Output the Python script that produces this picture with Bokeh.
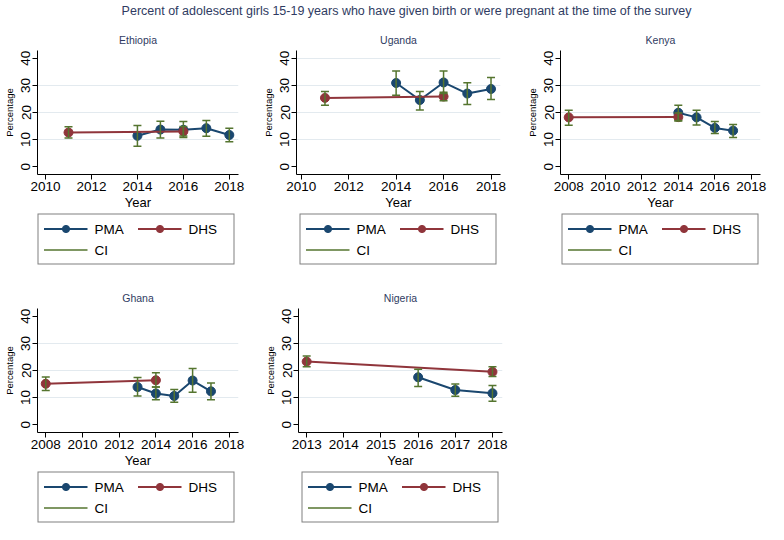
from bokeh.plotting import figure
from bokeh.layouts import column, row
from bokeh.models import Range1d, FixedTicker, Legend, LegendItem
from bokeh.embed import file_html
from bokeh.resources import INLINE

MAIN_TITLE = "Percent of adolescent girls 15-19 years who have given birth or were pregnant at the time of the survey"
countries = ["Ethiopia", "Uganda", "Kenya", "Ghana", "Nigeria"]

# Ethiopia
eth_pma_year = [2014, 2015, 2016, 2017, 2018]
eth_pma_val = [11.4, 13.7, 13.6, 14.2, 11.7]
eth_pma_lo = [7.5, 10.6, 10.8, 11.2, 9.2]
eth_pma_hi = [15.2, 16.8, 16.7, 17.0, 14.2]
eth_dhs_year = [2011, 2016]
eth_dhs_val = [12.6, 13.0]
eth_dhs_lo = [10.6, 11.3]
eth_dhs_hi = [14.7, 14.8]

# Uganda
uga_pma_year = [2014, 2015, 2016, 2017, 2018]
uga_pma_val = [30.9, 24.6, 31.1, 27.0, 28.7]
uga_pma_lo = [26.4, 20.9, 27.0, 23.0, 24.8]
uga_pma_hi = [35.3, 27.8, 35.3, 31.0, 32.9]
uga_dhs_year = [2011, 2016]
uga_dhs_val = [25.4, 25.9]
uga_dhs_lo = [22.7, 24.3]
uga_dhs_hi = [27.8, 27.5]

# Kenya
ken_pma_year = [2014, 2015, 2016, 2017]
ken_pma_val = [19.9, 18.2, 14.3, 13.3]
ken_pma_lo = [16.9, 15.4, 12.2, 10.8]
ken_pma_hi = [22.7, 20.8, 16.7, 15.6]
ken_dhs_year = [2008, 2014]
ken_dhs_val = [18.2, 18.3]
ken_dhs_lo = [15.3, 17.0]
ken_dhs_hi = [20.8, 19.8]

# Ghana
gha_pma_year = [2013, 2014, 2015, 2016, 2017]
gha_pma_val = [13.9, 11.5, 10.6, 16.3, 12.3]
gha_pma_lo = [10.6, 9.2, 8.3, 12.0, 9.2]
gha_pma_hi = [17.4, 13.9, 13.0, 20.7, 15.4]
gha_dhs_year = [2008, 2014]
gha_dhs_val = [15.1, 16.4]
gha_dhs_lo = [12.6, 13.9]
gha_dhs_hi = [17.6, 19.2]

# Nigeria
nga_pma_year = [2016, 2017, 2018]
nga_pma_val = [17.5, 12.8, 11.6]
nga_pma_lo = [14.1, 10.5, 8.6]
nga_pma_hi = [20.5, 15.0, 14.5]
nga_dhs_year = [2013, 2018]
nga_dhs_val = [23.3, 19.5]
nga_dhs_lo = [21.4, 17.8]
nga_dhs_hi = [25.4, 21.4]

ticks_1018 = [2010, 2012, 2014, 2016, 2018]
ticks_0818 = [2008, 2010, 2012, 2014, 2016, 2018]
ticks_1318 = [2013, 2014, 2015, 2016, 2017, 2018]
y_ticks = [0, 10, 20, 30, 40]
series_labels = ["PMA", "DHS", "CI"]

NAVY = "#1a476f"
MAROON = "#90353b"
GREEN = "#55752f"
TXT = "#2f3b62"
FONT = "Liberation Sans"


def draw_series(p, pma, dhs):
    py, pv, plo, phi = pma
    dy, dv, dlo, dhi = dhs
    pl = p.line(py, pv, line_color=NAVY, line_width=2)
    ps = p.scatter(py, pv, size=9, fill_color=NAVY, line_color=NAVY)
    dl = p.line(dy, dv, line_color=MAROON, line_width=2)
    ds = p.scatter(dy, dv, size=9, fill_color=MAROON, line_color=MAROON)
    ci_x = list(py) + list(dy)
    ci_lo = list(plo) + list(dlo)
    ci_hi = list(phi) + list(dhi)
    cs = p.segment(x0=ci_x, y0=ci_lo, x1=ci_x, y1=ci_hi, line_color=GREEN, line_width=1.5)
    p.scatter(ci_x, ci_lo, marker="dash", size=8, line_color=GREEN, line_width=1.5)
    p.scatter(ci_x, ci_hi, marker="dash", size=8, line_color=GREEN, line_width=1.5)
    return pl, ps, dl, ds, cs


def make_panel(name, pma, dhs, xr, xticks, width, bl, br, height, bt, grid_ticks):
    p = figure(width=width, height=height, x_range=Range1d(*xr), y_range=Range1d(-2.9, 42.9),
               output_backend="svg", toolbar_location=None,
               min_border_left=bl, min_border_right=br, min_border_top=bt, min_border_bottom=38,
               outline_line_color=None)
    p.title.text = name
    p.title.align = "center"
    p.title.text_font = FONT
    p.title.text_font_size = "10.5px"
    p.title.text_font_style = "normal"
    p.title.text_color = TXT

    for ax in (p.xaxis[0], p.yaxis[0]):
        ax.axis_line_color = "black"
        ax.axis_line_width = 1
        ax.major_tick_line_color = "black"
        ax.major_tick_out = 5
        ax.major_tick_in = 0
        ax.minor_tick_line_color = None
        ax.major_label_text_font = FONT
        ax.major_label_text_font_size = "13.5px"
        ax.major_label_text_color = "black"
        ax.axis_label_text_font = FONT
        ax.axis_label_text_font_style = "normal"
        ax.axis_label_text_color = "black"
    p.xaxis.ticker = FixedTicker(ticks=xticks)
    p.yaxis.ticker = FixedTicker(ticks=y_ticks)
    p.yaxis.major_label_orientation = "vertical"
    p.xaxis.axis_label = "Year"
    p.xaxis.axis_label_text_font_size = "13px"
    p.xaxis.axis_label_standoff = 1
    p.xaxis.major_label_standoff = 2
    p.yaxis.axis_label = "Percentage"
    p.yaxis.axis_label_text_font_size = "9.5px"
    p.yaxis.axis_label_standoff = 4
    p.yaxis.major_label_standoff = 2

    p.xgrid.visible = False
    p.ygrid.ticker = FixedTicker(ticks=grid_ticks)
    p.ygrid.grid_line_color = "#e3eaef"
    p.ygrid.grid_line_width = 1

    draw_series(p, pma, dhs)
    return p


def make_legend(pma, dhs, width, bl, br, height):
    # legend strip under a panel; the series are drawn here too (outside the visible range)
    f = figure(width=width, height=height, output_backend="svg", toolbar_location=None,
               x_axis_location=None, y_axis_location=None,
               min_border_left=bl, min_border_right=br, min_border_top=0, min_border_bottom=0,
               outline_line_color=None, x_range=Range1d(0, 1), y_range=Range1d(0, 1))
    f.grid.visible = False
    pl, ps, dl, ds, cs = draw_series(f, pma, dhs)
    legend = Legend(items=[LegendItem(label=series_labels[0], renderers=[pl, ps]),
                           LegendItem(label=series_labels[1], renderers=[dl, ds]),
                           LegendItem(label=series_labels[2], renderers=[cs])],
                    orientation="horizontal", ncols=2, location="center")
    legend.border_line_color = "black"
    legend.border_line_width = 1
    legend.background_fill_color = "white"
    legend.label_text_font = FONT
    legend.label_text_font_size = "13.5px"
    legend.label_text_color = "black"
    legend.glyph_width = 44
    legend.glyph_height = 18
    legend.label_height = 18
    legend.label_standoff = 7
    legend.label_width = 40
    legend.spacing = 3
    legend.padding = 5
    legend.margin = 0
    f.add_layout(legend)
    return f


title_fig = figure(width=768, height=26, output_backend="svg", toolbar_location=None,
                   x_axis_location=None, y_axis_location=None,
                   min_border_left=44, min_border_right=0, min_border_top=0, min_border_bottom=0,
                   outline_line_color=None, x_range=Range1d(0, 1), y_range=Range1d(0, 1))
title_fig.title.text = MAIN_TITLE
title_fig.grid.visible = False
title_fig.title.align = "center"
title_fig.title.text_font = FONT
title_fig.title.text_font_size = "12.5px"
title_fig.title.text_font_style = "normal"
title_fig.title.text_color = TXT
title_fig.title.standoff = 2

H1, H2, HL = 186, 204, 54
eth = ((eth_pma_year, eth_pma_val, eth_pma_lo, eth_pma_hi), (eth_dhs_year, eth_dhs_val, eth_dhs_lo, eth_dhs_hi))
uga = ((uga_pma_year, uga_pma_val, uga_pma_lo, uga_pma_hi), (uga_dhs_year, uga_dhs_val, uga_dhs_lo, uga_dhs_hi))
ken = ((ken_pma_year, ken_pma_val, ken_pma_lo, ken_pma_hi), (ken_dhs_year, ken_dhs_val, ken_dhs_lo, ken_dhs_hi))
gha = ((gha_pma_year, gha_pma_val, gha_pma_lo, gha_pma_hi), (gha_dhs_year, gha_dhs_val, gha_dhs_lo, gha_dhs_hi))
nga = ((nga_pma_year, nga_pma_val, nga_pma_lo, nga_pma_hi), (nga_dhs_year, nga_dhs_val, nga_dhs_lo, nga_dhs_hi))

p1 = make_panel(countries[0], *eth, (2009.65, 2018.4), ticks_1018, 256, 34, 18, H1, 24, [10, 20, 30])
p2 = make_panel(countries[1], *uga, (2009.8, 2018.4), ticks_1018, 260, 40, 16, H1, 24, [10, 20, 30, 40])
p3 = make_panel(countries[2], *ken, (2007.55, 2018.5), ticks_0818, 252, 44, 8, H1, 24, [10, 20, 30])
p4 = make_panel(countries[3], *gha, (2007.55, 2018.5), ticks_0818, 256, 34, 18, H2, 42, [10, 20, 30])
p5 = make_panel(countries[4], *nga, (2012.78, 2018.27), ticks_1318, 260, 42, 14, H2, 42, [10, 20, 30])

l1 = make_legend(*eth, 256, 34, 18, HL)
l2 = make_legend(*uga, 260, 40, 16, HL)
l3 = make_legend(*ken, 252, 44, 8, HL)
l4 = make_legend(*gha, 256, 34, 18, HL)
l5 = make_legend(*nga, 260, 42, 14, HL)

layout = column(title_fig, row(p1, p2, p3), row(l1, l2, l3), row(p4, p5), row(l4, l5))
open("out.html", "w").write(file_html(layout, INLINE))
